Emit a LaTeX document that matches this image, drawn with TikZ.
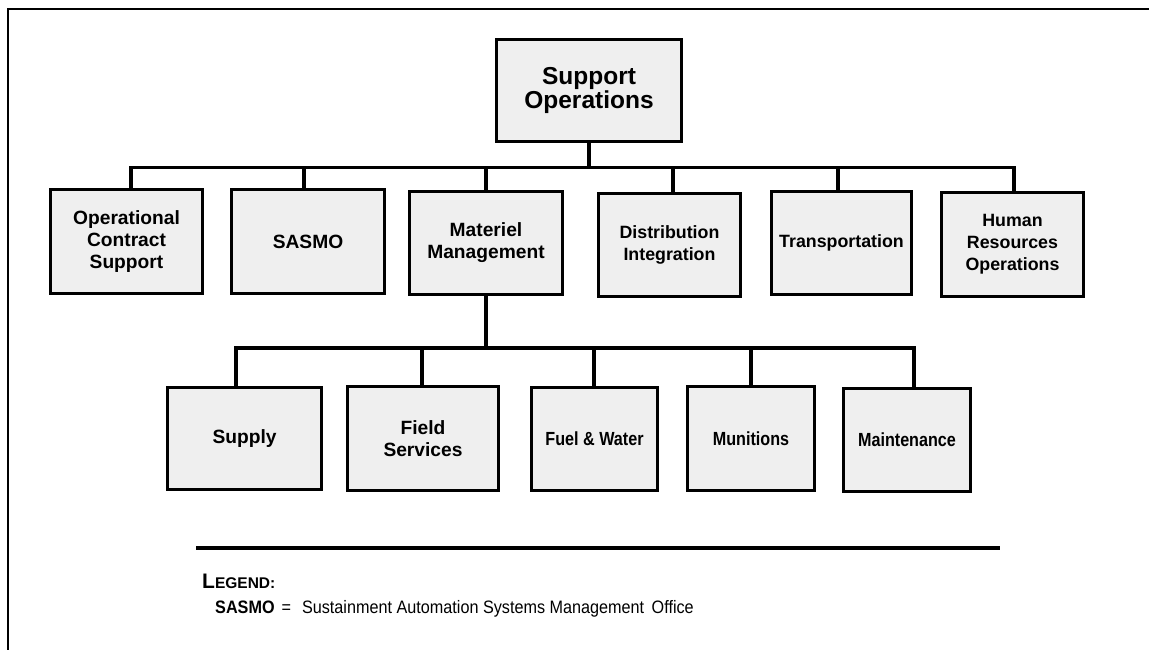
\documentclass[tikz,border=0pt]{standalone}
\usepackage{fontspec}
\setmainfont{Liberation Sans}
\newfontfamily\narrowfont[FakeStretch=0.85]{Liberation Sans}
\newfontfamily\legfont[FakeStretch=0.9]{Liberation Sans}
\usetikzlibrary{calc}
\definecolor{boxgray}{HTML}{EFEFEF}
\begin{document}
\begin{tikzpicture}[x=1pt,y=-1pt,
  box/.style={draw=black, line width=3.4pt, fill=boxgray, align=center, inner sep=0pt,
    font=\bfseries\fontsize{19.2}{22}\selectfont},
  rbox/.style={box, font=\bfseries\fontsize{17.8}{22}\selectfont},
  bigbox/.style={box, font=\bfseries\fontsize{24.5}{22.5}\selectfont},
  narrowbox/.style={box, font=\narrowfont\bfseries\fontsize{19}{22}\selectfont},
  wire/.style={line width=3.4pt, line join=miter},
  frameline/.style={line width=1.6pt},
  legrule/.style={line width=3.2pt},
  legtxt/.style={anchor=base west, inner sep=0pt}]
\useasboundingbox (0,0) rectangle (1149,650);
% frame
\draw[frameline] (8,650) -- (8,9) -- (1149,9);

% top
\node[bigbox, minimum width=185, minimum height=102] (top) at (589,90.5) {Support\\Operations};

% row 1
\node[box, minimum width=152, minimum height=104] (ocs) at (126.5,241.5) {Operational\\Contract\\Support};
\node[box, minimum width=153, minimum height=104] (sasmo) at (308,241.5) {SASMO};
\node[box, minimum width=153, minimum height=103] (mat) at (486,243) {Materiel\\Management};
\node[rbox, minimum width=142, minimum height=103] (dist) at (669.5,245) {Distribution\\Integration};
\node[rbox, minimum width=140, minimum height=103] (trans) at (841.5,243) {Transportation};
\node[rbox, minimum width=142, minimum height=104] (hr) at (1012.5,244.5) {Human\\Resources\\Operations};

% row 2
\node[box, minimum width=154, minimum height=102] (supply) at (244.5,438.5) {Supply};
\node[box, minimum width=151, minimum height=104] (field) at (423,438.5) {Field\\Services};
\node[narrowbox, minimum width=126, minimum height=103] (fuel) at (594.5,439) {Fuel \& Water};
\node[narrowbox, minimum width=127, minimum height=104] (mun) at (751,438.5) {Munitions};
\node[narrowbox, minimum width=127, minimum height=103] (maint) at (907,440) {Maintenance};

% connectors level 1
\coordinate (b1) at (589,167.5);
\draw[wire] (top.south) -- (b1);
\draw[wire] ($(ocs.north)+(4.5,0)$) |- (b1) -| ($(hr.north)+(1.5,0)$);
\foreach \n/\d in {sasmo/-4, mat/0, dist/3.5, trans/-3.5} {
  \draw[wire] ($(\n.north)+(\d,0)$) coordinate (t) -- (t |- b1);
}

% connectors level 2
\coordinate (b2) at (486,348);
\draw[wire] (mat.south) -- (b2);
\draw[wire] ($(supply.north)+(-8.5,0)$) |- (b2) -| ($(maint.north)+(7,0)$);
\foreach \n/\d in {field/-1, fuel/-0.5, mun/0} {
  \draw[wire] ($(\n.north)+(\d,0)$) coordinate (t) -- (t |- b2);
}

% legend
\draw[legrule] (196,548) -- (1000,548);
\node[legtxt] (legtitle) at (202,588) {\bfseries\fontsize{21}{21}\selectfont L\fontsize{15.5}{15.5}\selectfont EGEND:};
\node[legtxt] (legtext) at (215,613) {\legfont\fontsize{18}{18}\selectfont\textbf{SASMO}\hspace{7pt}=\hspace{11pt}Sustainment Automation Systems Management\hspace{3pt} Office};
\end{tikzpicture}
\end{document}
